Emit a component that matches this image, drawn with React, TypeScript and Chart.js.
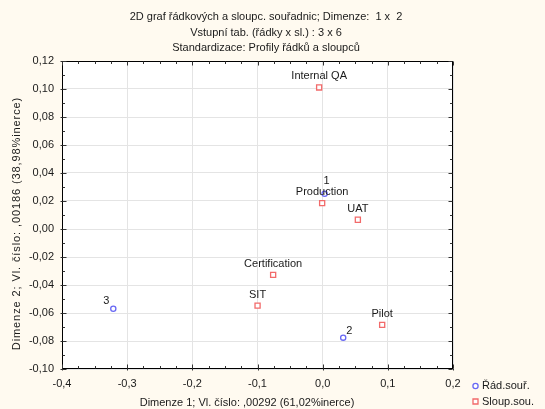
import { useEffect, useRef } from "react";
import { Chart, registerables } from "chart.js";

Chart.register(...registerables);

// Correspondence analysis: row and column coordinates on dimensions 1 and 2
const titleLines = [
  "2D graf řádkových a sloupc. souřadnic; Dimenze:  1 x  2",
  "Vstupní tab. (řádky x sl.) : 3 x 6",
  "Standardizace: Profily řádků a sloupců",
];
const xAxisTitle = "Dimenze 1; Vl. číslo: ,00292 (61,02%inerce)";
const yAxisTitle = "Dimenze 2; Vl. číslo: ,00186 (38,98%inerce)";

const rowSeriesName = "Řád.souř.";
const rowLabels = ["1", "2", "3"];
const rowDim1 = [0.003, 0.0315, -0.3213];
const rowDim2 = [0.0251, -0.0776, -0.057];
const rowLabelPlacement = ["aboveRight", "upRight", "upLeft"];

const colSeriesName = "Sloup.sou.";
const colLabels = ["Internal QA", "Production", "UAT", "Certification", "SIT", "Pilot"];
const colDim1 = [-0.0054, -0.0008, 0.054, -0.076, -0.0999, 0.0913];
const colDim2 = [0.1011, 0.0185, 0.0066, -0.0328, -0.0547, -0.0685];
const colLabelPlacement = ["above", "above", "above", "above", "above", "above"];

const xTickValues = [-0.4, -0.3, -0.2, -0.1, 0.0, 0.1, 0.2];
const yTickValues = [-0.1, -0.08, -0.06, -0.04, -0.02, 0.0, 0.02, 0.04, 0.06, 0.08, 0.1, 0.12];
const xMinorStep = 0.025;
const yMinorStep = 0.01;

const PAGE_BG = "#FFFAF0";
const ROW_COLOR = "#6868F4";
const COL_COLOR = "#F26A6A";
const TEXT_COLOR = "#1A1A1A";
const FONT_FAMILY = "'Liberation Sans', Arial, sans-serif";
const FONT = `11px ${FONT_FAMILY}`;

const fmt = (v: number, digits: number) => {
  const s = v.toFixed(digits);
  return (Number(s) === 0 ? (0).toFixed(digits) : s).replace(".", ",");
};

// label offset from the marker centre, by placement keyword
const placementOffset = (p: string): [number, number, CanvasTextAlign] => {
  switch (p) {
    case "aboveRight":
      return [2, -12.5, "center"];
    case "upRight":
      return [6, -7, "center"];
    case "upLeft":
      return [-7, -8, "center"];
    default:
      return [0, -11, "center"];
  }
};

const decorations = {
  id: "decorations",
  beforeDraw(chart: any) {
    const { ctx, width, height, chartArea: a } = chart;
    ctx.save();
    ctx.fillStyle = PAGE_BG;
    ctx.fillRect(0, 0, width, height);
    ctx.fillStyle = "#FFFFFF";
    ctx.fillRect(a.left, a.top, a.right - a.left, a.bottom - a.top);
    ctx.restore();
  },
  afterDatasetsDraw(chart: any) {
    const { ctx } = chart;
    ctx.save();
    ctx.font = FONT;
    ctx.fillStyle = TEXT_COLOR;
    ctx.textBaseline = "middle";
    const sets: [string[], string[]][] = [
      [rowLabels, rowLabelPlacement],
      [colLabels, colLabelPlacement],
    ];
    sets.forEach(([labels, places], di) => {
      const meta = chart.getDatasetMeta(di);
      meta.data.forEach((el: any, i: number) => {
        const [dx, dy, align] = placementOffset(places[i]);
        ctx.textAlign = align;
        ctx.fillText(labels[i], el.x + dx, el.y + dy);
      });
    });
    ctx.restore();
  },
  afterDraw(chart: any) {
    const { ctx, chartArea: a } = chart;
    const xs = chart.scales.x;
    const ys = chart.scales.y;
    ctx.save();

    // frame
    ctx.strokeStyle = "#000000";
    ctx.lineWidth = 1;
    const L = Math.round(a.left) + 0.5;
    const R = Math.round(a.right) - 0.5;
    const T = Math.round(a.top) + 0.5;
    const B = Math.round(a.bottom) - 0.5;
    ctx.strokeRect(L, T, R - L, B - T);

    // inward tick marks on all four sides
    ctx.strokeStyle = "#333333";
    ctx.beginPath();
    const xMin = xTickValues[0];
    const xMax = xTickValues[xTickValues.length - 1];
    const nx = Math.round((xMax - xMin) / xMinorStep);
    for (let k = 0; k <= nx; k++) {
      const v = xMin + k * xMinorStep;
      const major = k % 4 === 0;
      const len = major ? 4 : 2.5;
      const px = Math.round(xs.getPixelForValue(v)) + 0.5;
      ctx.moveTo(px, T);
      ctx.lineTo(px, T + len);
      ctx.moveTo(px, B);
      ctx.lineTo(px, B - len);
      if (major) {
        ctx.moveTo(px, B);
        ctx.lineTo(px, B + 2);
      }
    }
    const yMin = yTickValues[0];
    const yMax = yTickValues[yTickValues.length - 1];
    const ny = Math.round((yMax - yMin) / yMinorStep);
    for (let k = 0; k <= ny; k++) {
      const v = yMin + k * yMinorStep;
      const major = k % 2 === 0;
      const len = major ? 4 : 2.5;
      const py = Math.round(ys.getPixelForValue(v)) + 0.5;
      ctx.moveTo(L, py);
      ctx.lineTo(L + len, py);
      ctx.moveTo(R, py);
      ctx.lineTo(R - len, py);
      if (major) {
        ctx.moveTo(L, py);
        ctx.lineTo(L - 2, py);
      }
    }
    ctx.stroke();

    // titles
    ctx.font = FONT;
    ctx.fillStyle = TEXT_COLOR;
    ctx.textAlign = "center";
    ctx.textBaseline = "middle";
    titleLines.forEach((line, i) => ctx.fillText(line, 266, 17 + i * 15.5));
    ctx.fillText(xAxisTitle, 247, 402.5);
    ctx.save();
    ctx.translate(16.5, 223.5);
    ctx.rotate(-Math.PI / 2);
    (ctx as any).letterSpacing = "0.9px";
    ctx.fillText(yAxisTitle, 0, 0);
    (ctx as any).letterSpacing = "0px";
    ctx.restore();

    // legend
    const lx = 475.5;
    const ly1 = 386;
    const ly2 = 401.5;
    ctx.lineWidth = 1.3;
    ctx.fillStyle = "#FFFFFF";
    ctx.strokeStyle = ROW_COLOR;
    ctx.beginPath();
    ctx.arc(lx, ly1, 2.6, 0, Math.PI * 2);
    ctx.fill();
    ctx.stroke();
    ctx.strokeStyle = COL_COLOR;
    ctx.beginPath();
    ctx.rect(lx - 2.5, ly2 - 2.5, 5, 5);
    ctx.fill();
    ctx.stroke();
    ctx.fillStyle = TEXT_COLOR;
    ctx.textAlign = "left";
    ctx.fillText(rowSeriesName, 482, ly1);
    ctx.fillText(colSeriesName, 482, ly2);

    ctx.restore();
  },
};

export default function App() {
  const canvasRef = useRef<HTMLCanvasElement | null>(null);

  useEffect(() => {
    if (!canvasRef.current) return;
    const chart = new Chart(canvasRef.current, {
      type: "scatter",
      data: {
        datasets: [
          {
            label: rowSeriesName,
            data: rowDim1.map((x, i) => ({ x, y: rowDim2[i] })),
            pointStyle: "circle",
            pointRadius: 2.6,
            pointBorderWidth: 1.3,
            pointBorderColor: ROW_COLOR,
            pointBackgroundColor: "#FFFFFF",
          },
          {
            label: colSeriesName,
            data: colDim1.map((x, i) => ({ x, y: colDim2[i] })),
            pointStyle: "rect",
            pointRadius: 3.6,
            pointBorderWidth: 1.3,
            pointBorderColor: COL_COLOR,
            pointBackgroundColor: "#FFFFFF",
          },
        ],
      },
      options: {
        responsive: false,
        animation: false,
        devicePixelRatio: 1,
        layout: { padding: { left: 0, right: 92, top: 61, bottom: 0 } },
        plugins: {
          legend: { display: false },
          title: { display: false },
          tooltip: { enabled: false },
        },
        scales: {
          x: {
            type: "linear",
            min: xTickValues[0],
            max: xTickValues[xTickValues.length - 1],
            afterBuildTicks: (s: any) => {
              s.ticks = xTickValues.map((value) => ({ value }));
            },
            afterFit: (s: any) => {
              s.height = 40;
            },
            ticks: {
              padding: 8,
              color: TEXT_COLOR,
              font: { family: FONT_FAMILY, size: 11 },
              maxRotation: 0,
              callback: (v: any) => fmt(Number(v), 1),
            },
            grid: { color: "#E4E4E4", lineWidth: 1, drawTicks: false },
            border: { display: false },
          },
          y: {
            type: "linear",
            min: yTickValues[0],
            max: yTickValues[yTickValues.length - 1],
            afterBuildTicks: (s: any) => {
              s.ticks = yTickValues.map((value) => ({ value }));
            },
            afterFit: (s: any) => {
              s.width = 62;
            },
            ticks: {
              padding: 8,
              color: TEXT_COLOR,
              font: { family: FONT_FAMILY, size: 11 },
              callback: (v: any) => fmt(Number(v), 2),
            },
            grid: { color: "#E4E4E4", lineWidth: 1, drawTicks: false },
            border: { display: false },
          },
        },
      },
      plugins: [decorations],
    });
    return () => chart.destroy();
  }, []);

  return (
    <div style={{ position: "absolute", left: 0, top: 0, width: 545, height: 409, background: PAGE_BG }}>
      <canvas ref={canvasRef} width={545} height={409} style={{ display: "block", width: 545, height: 409 }} />
    </div>
  );
}
